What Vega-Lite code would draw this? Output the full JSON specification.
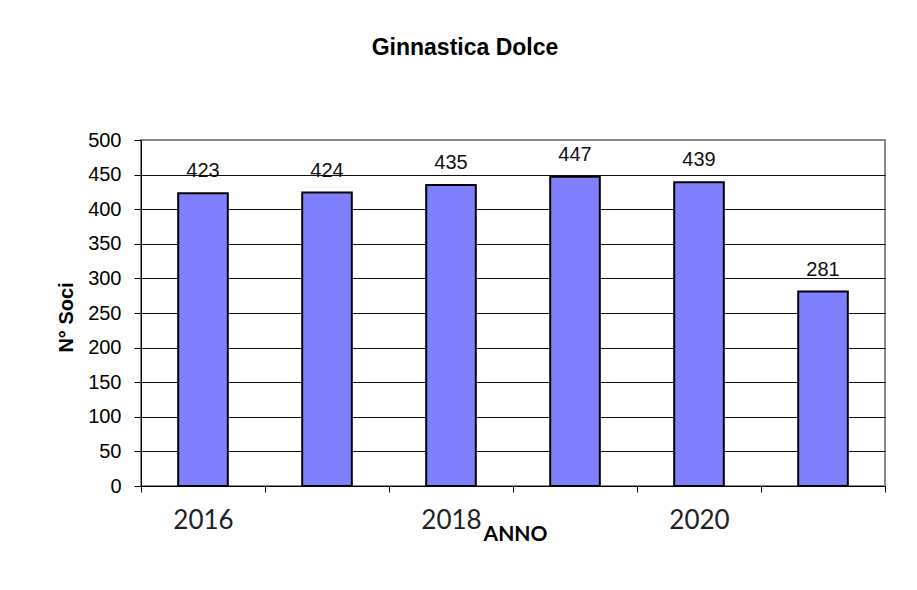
{
  "$schema": "https://vega.github.io/schema/vega-lite/v6.json",
  "autosize": {"type": "none"},
  "width": 744,
  "height": 346,
  "padding": {"left": 141, "top": 140, "right": 32, "bottom": 104},
  "background": "white",
  "title": {
    "text": "Ginnastica Dolce",
    "font": "Liberation Sans",
    "fontSize": 23,
    "fontWeight": "bold",
    "color": "black",
    "anchor": "middle",
    "frame": "group",
    "baseline": "alphabetic",
    "offset": 52,
    "dx": -48
  },
  "config": {
    "view": {"stroke": "#888888", "strokeWidth": 2},
    "axis": {"domainColor": "black", "tickColor": "black", "labelColor": "black", "titleColor": "black"}
  },
  "data": {
    "values": [
      {"anno": 2016, "soci": 423},
      {"anno": 2017, "soci": 424},
      {"anno": 2018, "soci": 435},
      {"anno": 2019, "soci": 447},
      {"anno": 2020, "soci": 439},
      {"anno": 2021, "soci": 281}
    ]
  },
  "encoding": {
    "x": {
      "field": "anno",
      "type": "ordinal",
      "scale": {"type": "band", "paddingInner": 0, "paddingOuter": 0},
      "axis": {
        "title": "ANNO",
        "titleFont": "Lato",
        "titleFontSize": 21,
        "titleFontWeight": "bold",
        "titleX": 374,
        "titleY": 54.5,
        "titleAlign": "center",
        "titleBaseline": "alphabetic",
        "labelAngle": 0,
        "labelFont": "Lato",
        "labelFontSize": 26,
        "labelColor": "#222222",
        "labelBaseline": "top",
        "labelPadding": 15,
        "labelExpr": "datum.value % 2 == 0 ? datum.label : ''",
        "tickBand": "extent",
        "tickSize": 6,
        "grid": false,
        "domainColor": "black"
      }
    },
    "y": {
      "field": "soci",
      "type": "quantitative",
      "scale": {"domain": [0, 500], "nice": false},
      "axis": {
        "title": "N° Soci",
        "titleFont": "Liberation Sans",
        "titleFontSize": 20,
        "titleFontWeight": "bold",
        "titleAngle": -90,
        "titleX": -74.5,
        "titleY": 177,
        "titleAlign": "center",
        "titleBaseline": "middle",
        "values": [0, 50, 100, 150, 200, 250, 300, 350, 400, 450, 500],
        "labelFont": "Liberation Sans",
        "labelFontSize": 20,
        "labelPadding": 13,
        "tickSize": 7,
        "grid": true,
        "gridColor": {"condition": {"test": "datum.value == 500", "value": "#888888"}, "value": "#111111"},
        "gridWidth": 1
      }
    }
  },
  "layer": [
    {
      "mark": {"type": "bar", "width": {"band": 0.4}, "fill": "#8080FF", "stroke": "black", "strokeWidth": 2}
    },
    {
      "mark": {"type": "text", "font": "Liberation Sans", "fontSize": 20, "color": "#111111", "baseline": "alphabetic", "dy": -16},
      "encoding": {"text": {"field": "soci", "type": "quantitative"}}
    }
  ]
}
